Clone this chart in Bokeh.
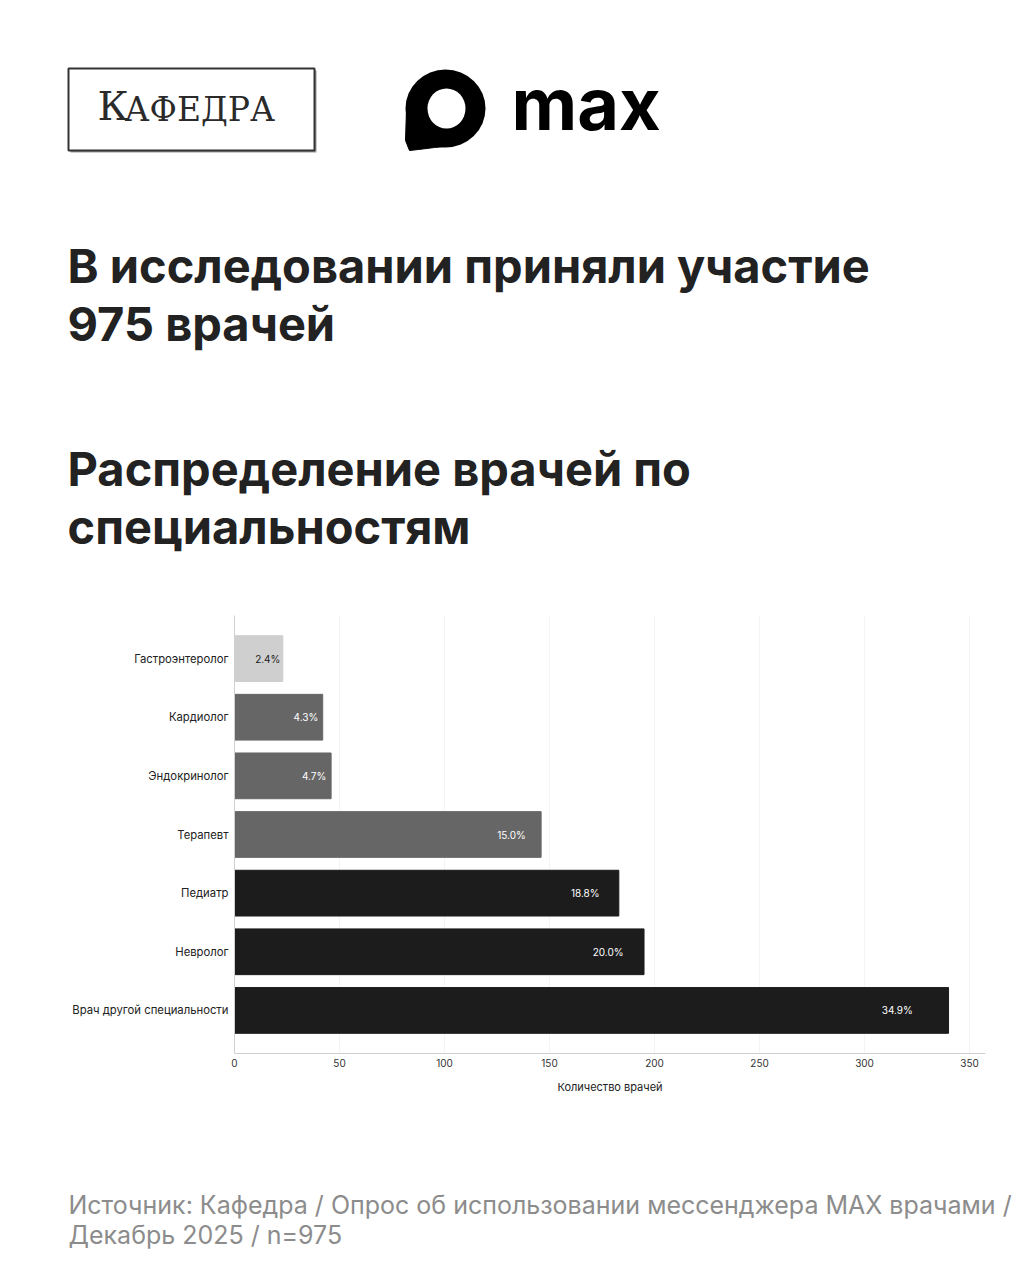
from bokeh.plotting import figure
from bokeh.models import Range1d, FactorRange, ColumnDataSource, FixedTicker
from bokeh.core.properties import value
from bokeh.embed import file_html
from bokeh.resources import INLINE

# ---------------- data ----------------
specialties = ["Гастроэнтеролог", "Кардиолог", "Эндокринолог", "Терапевт",
               "Педиатр", "Невролог", "Врач другой специальности"]
counts = [23, 42, 46, 146, 183, 195, 340]
bar_colors = ["#cfcfcf", "#666666", "#666666", "#666666", "#1c1c1c", "#1c1c1c", "#1c1c1c"]
label_colors = ["#222222", "#ffffff", "#ffffff", "#ffffff", "#ffffff", "#ffffff", "#ffffff"]
x_ticks = [0, 50, 100, 150, 200, 250, 300, 350]
total = 975

headline = ["В исследовании приняли участие", "975 врачей"]
subhead = ["Распределение врачей по", "специальностям"]
source_lines = ["Источник: Кафедра / Опрос об использовании мессенджера MAX врачами /",
                "Декабрь 2025 / n=975"]
x_axis_title = "Количество врачей"

FONT = "Inter"
W = 1024
HEAD_H, CHART_H, FOOT_H = 600, 510, 170
FL, FR, FT, FB = 234, 985, 615, 1053   # chart frame edges in page pixels


def base(y, size):
    # place the text so that its baseline lands on page row y
    return y - 0.43 * size


def blank(height, y0):
    f = figure(width=W, height=height, x_range=Range1d(0, W), y_range=Range1d(y0 + height, y0),
               output_backend="svg", toolbar_location=None,
               x_axis_location=None, y_axis_location=None,
               min_border=0, outline_line_color=None)
    f.grid.visible = False
    f.background_fill_color = "white"
    f.border_fill_color = "white"
    return f


# ---------------- header ----------------
head = blank(HEAD_H, 0)
# Кафедра logo box with shadow
head.quad(left=[70], right=[316], top=[70], bottom=[152], fill_color="#9a9a9a", line_color=None)
head.quad(left=[68], right=[314], top=[68], bottom=[150], fill_color="white",
          line_color="#333333", line_width=2)
head.text(x=[97], y=[base(123, 40)], text=["К"], text_font=value("DejaVu Serif"),
          text_font_size="40px", text_color="#2a2a2a", text_baseline="alphabetic")
head.text(x=[124], y=[base(123, 33)], text=["АФЕДРА"], text_font=value("DejaVu Serif"),
          text_font_size="33px", text_color="#2a2a2a", text_baseline="alphabetic")
# MAX logo
head.ellipse(x=[445], y=[108], width=[80], height=[78], fill_color="black", line_color=None)
head.patch(x=[406, 445, 445, 434, 418, 409, 405], y=[108, 108, 146, 147, 149, 150, 140],
           fill_color="black", line_color="black")
head.ellipse(x=[446], y=[108], width=[38], height=[40], fill_color="white", line_color=None)
head.text(x=[511], y=[130 - 27], text=["max"], text_font=value(FONT), text_font_style="bold",
          text_font_size="72px", text_color="black", text_baseline="alphabetic")
# Headlines
head.text(x=[67, 67], y=[base(285, 47), base(343, 47)], text=headline, text_font=value(FONT),
          text_font_style="bold", text_font_size="47px", text_color="#222222",
          text_baseline="alphabetic")
head.text(x=[67, 67], y=[base(488, 47), base(546, 47)], text=subhead, text_font=value(FONT),
          text_font_style="bold", text_font_size="47px", text_color="#222222",
          text_baseline="alphabetic")

# ---------------- chart ----------------
factors = list(reversed(specialties))
src = ColumnDataSource(dict(
    spec=specialties, count=counts, color=bar_colors, lcolor=label_colors,
    label=[f"{c / total * 100:.1f}%" for c in counts],
    lx=[c * 0.95 for c in counts],
))

p = figure(width=W, height=CHART_H, y_range=FactorRange(factors=factors, range_padding=0.067),
           x_range=Range1d(0, 357.6), output_backend="svg", toolbar_location=None,
           min_border_left=FL, min_border_right=W - FR,
           min_border_top=FT - HEAD_H, min_border_bottom=HEAD_H + CHART_H - FB,
           outline_line_color=None)
p.background_fill_color = "white"
p.border_fill_color = "white"
p.hbar(y="spec", right="count", left=0, height=0.78, source=src,
       fill_color="color", line_color="color")
p.text(x="lx", y="spec", text="label", source=src, text_align="right", text_baseline="middle",
       text_color="lcolor", text_font=value(FONT), text_font_size="10px")

p.xaxis.ticker = FixedTicker(ticks=x_ticks)
p.xaxis.axis_label = x_axis_title
p.xaxis.axis_label_text_font = FONT
p.xaxis.axis_label_text_font_style = "normal"
p.xaxis.axis_label_text_font_size = "11px"
p.xaxis.axis_label_text_color = "#222222"
p.xaxis.axis_label_standoff = 10
p.xaxis.major_label_text_font = FONT
p.xaxis.major_label_text_font_size = "10px"
p.xaxis.major_label_text_color = "#333333"
p.xaxis.major_label_standoff = 5
p.xaxis.major_tick_out = 0
p.xaxis.major_tick_in = 0
p.xaxis.major_tick_line_color = None
p.xaxis.minor_tick_line_color = None
p.xaxis.axis_line_color = "#d0d0d0"

p.yaxis.major_label_text_font = FONT
p.yaxis.major_label_text_font_size = "11.3px"
p.yaxis.major_label_text_color = "#222222"
p.yaxis.major_label_standoff = 6
p.yaxis.major_tick_out = 0
p.yaxis.major_tick_in = 0
p.yaxis.major_tick_line_color = None
p.yaxis.axis_line_color = "#d0d0d0"

p.ygrid.visible = False
p.xgrid.grid_line_color = "#f4f4f4"

# ---------------- footer ----------------
foot = blank(FOOT_H, HEAD_H + CHART_H)
foot.text(x=[68, 68], y=[base(1215, 25), base(1245, 25)], text=source_lines, text_font=value(FONT),
          text_font_size="25px", text_color="#8c8c8c", text_baseline="alphabetic")

open("out.html", "w").write(file_html([head, p, foot], INLINE))
